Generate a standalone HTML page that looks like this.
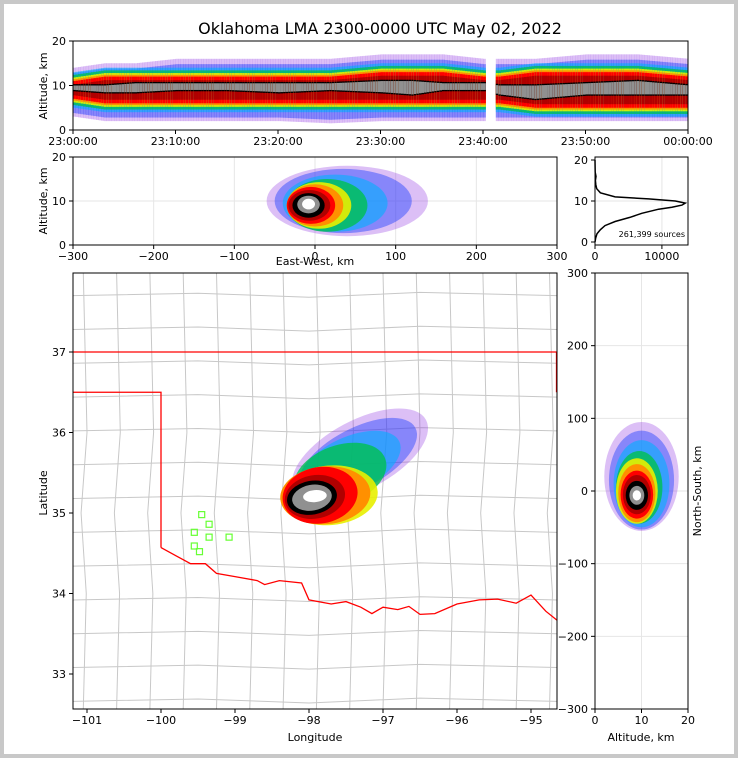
<!DOCTYPE html>
<html><head><meta charset="utf-8">
<style>
html,body{margin:0;padding:0;background:#fff;}
#wrap{position:relative;width:738px;height:758px;box-sizing:border-box;border:4px solid #c8c8c8;background:#fff;overflow:hidden;}
svg text{font-family:"DejaVu Sans","Liberation Sans",sans-serif;}
</style></head>
<body>
<div id="wrap">
<svg id="fig" width="738" height="758" viewBox="0 0 738 758" style="position:absolute;left:-4px;top:-4px">
<text x="380" y="34" font-size="16" text-anchor="middle">Oklahoma LMA 2300-0000 UTC May 02, 2022</text>
</svg>
</div>
<script>
// ---- data ----
const densityColors=["#8a2be2","#2040ff","#00b0ff","#00c050","#e8f000","#ff9000","#ff0000","#b00000","#000000","#909090","#ffffff"];
const levelOpacity=[0.3,0.45,0.6,0.8,0.9,1,1,1,1,1,1];
// time series (minutes after 23:00)
const tsMinutes=[0,3,6,10,15,20,25,30,33,36,40,41.5,45,50,55,60];
const tsOuterLow=[3,2,2,2,2,2,1.5,2,2,2,2,2,2,2,2,2];
const tsOuterHigh=[14,15,15,16,16,16,16,17,17,17,16,16,16,17,17,16];
const tsCoreLow=[7,6,6,6,6,6,6,6,6,6,6,6,5,5,5,5];
const tsCoreHigh=[11,12,12,12,12,12,12,13,13,13,12,12,13,13,13,12];
const tsWhiteLow=[9,8.5,8.5,9,9,8.5,9,8.5,8,9,9,8,7,8,8,8];
const tsWhiteHigh=[10,10,10.5,10.5,10.5,10.5,10.5,11,11,10.5,10.5,10,10,10.5,11,10];
const tsGapStart=40.2, tsGapEnd=41.2;
// East-West vs altitude blob levels: [cx km, cz km, rx km, rz km]
const ewLevels=[[40,10,100,8],[35,10,85,7.3],[25,9.5,65,6.5],[15,9,50,6],[5,9,40,5.3],[0,9,35,4.8],[-5,9,30,4.2],[-7,9,26,3.5],[-8,9,20,2.8],[-8,9.2,14,2],[-8,9.3,8,1.2]];
// histogram altitude profile
const histAlt=[0,1,2,3,4,5,6,7,8,8.5,9,9.5,10,10.5,11,12,13,14,15,16,17,20];
const histCount=[0,100,300,800,1500,3000,5200,7000,9500,11500,13000,13500,12000,8000,3000,800,250,120,60,150,30,0];
const totalSources="261,399 sources";
// map blob levels: [lon, lat, rxDeg, ryDeg, angleDeg]
const mapLevels=[[-97.31,35.72,1.01,0.43,-28],[-97.34,35.68,0.88,0.37,-28],[-97.45,35.6,0.74,0.34,-25],[-97.58,35.47,0.65,0.37,-20],[-97.72,35.22,0.65,0.37,-5],[-97.78,35.22,0.61,0.36,-5],[-97.85,35.22,0.51,0.35,-10],[-97.92,35.2,0.41,0.27,-10],[-97.96,35.19,0.34,0.21,-10],[-97.96,35.19,0.27,0.16,-10],[-97.92,35.21,0.16,0.075,-5]];
// right panel levels: [altKm, nsKm, rAlt, rNs]
const nsLevels=[[10,20,8,75],[10,15,7,68],[10,10,6,60],[9.5,5,5,50],[9,0,4.5,45],[9,-3,4,40],[9,-5,3.5,33],[9,-5,3,27],[9,-6,2.4,20],[9,-6,1.6,13],[9,-6,0.9,7]];
// station markers lon/lat
const stationLon=[-99.45,-99.35,-99.55,-99.35,-99.08,-99.55,-99.48];
const stationLat=[34.98,34.86,34.76,34.7,34.7,34.59,34.52];
// Oklahoma southern boundary (Red River) lon/lat
const riverLon=[-100,-99.8,-99.6,-99.4,-99.25,-99,-98.7,-98.6,-98.4,-98.1,-98,-97.7,-97.5,-97.3,-97.15,-97,-96.8,-96.65,-96.5,-96.3,-96,-95.7,-95.45,-95.2,-95,-94.8,-94.65];
const riverLat=[34.57,34.47,34.37,34.37,34.25,34.21,34.16,34.11,34.16,34.13,33.92,33.87,33.9,33.83,33.75,33.83,33.8,33.84,33.74,33.75,33.87,33.92,33.93,33.88,33.98,33.78,33.67];

const NS="http://www.w3.org/2000/svg";
const svg=document.getElementById('fig');
function mk(tag,attrs,parent){const e=document.createElementNS(NS,tag);for(const k in attrs)e.setAttribute(k,attrs[k]);(parent||svg).appendChild(e);return e;}
function txt(x,y,s,size,anchor,parent){const t=mk('text',{x:x,y:y,'font-size':size||11,'text-anchor':anchor||'middle'},parent);t.textContent=s;return t;}

// ---------- Panel 1: time-altitude ----------
const p1={x0:73,x1:688,y0:41,y1:130};
const tX=m=>p1.x0+m/60*(p1.x1-p1.x0);
const tY=a=>p1.y1-a/20*(p1.y1-p1.y0);
const g1=mk('g',{});


function interp(xs,ys,x){for(let i=0;i<xs.length-1;i++){if(x>=xs[i]&&x<=xs[i+1]){const f=(x-xs[i])/(xs[i+1]-xs[i]);return ys[i]+f*(ys[i+1]-ys[i]);}}return ys[ys.length-1];}
const step=0.25;
for(let m=0;m<60;m+=step){
  if(m>=tsGapStart&&m<tsGapEnd)continue;
  const oL=interp(tsMinutes,tsOuterLow,m),oH=interp(tsMinutes,tsOuterHigh,m);
  const cL=interp(tsMinutes,tsCoreLow,m),cH=interp(tsMinutes,tsCoreHigh,m);
  const wL=interp(tsMinutes,tsWhiteLow,m),wH=interp(tsMinutes,tsWhiteHigh,m);
  const bands=[[oL,oH,0],[oL+0.8,oH-1.2,1],[cL-2,cH+2,2],[cL-1.4,cH+1.4,3],[cL-0.8,cH+0.8,4],[cL-0.4,cH+0.4,5],[cL,cH,6],[cL+0.8,cH-0.8,7],[wL-0.3,wH+0.3,8],[wL,wH,9]];
  for(const b of bands){
    if(b[1]<=b[0])continue;
    const r=mk('rect',{x:tX(m),y:tY(b[1]),width:tX(step)-tX(0)+0.3,height:tY(b[0])-tY(b[1]),fill:densityColors[b[2]],'fill-opacity':levelOpacity[b[2]]},g1);
    
    
  }
}
mk('rect',{x:p1.x0,y:p1.y0,width:p1.x1-p1.x0,height:p1.y1-p1.y0,fill:'none',stroke:'#000'});
const tLabels=["23:00:00","23:10:00","23:20:00","23:30:00","23:40:00","23:50:00","00:00:00"];
tLabels.forEach((s,i)=>{const x=tX(i*10);mk('line',{x1:x,x2:x,y1:p1.y1,y2:p1.y1+4,stroke:'#000'});const t=txt(x,p1.y1+15,s,11);});
[0,10,20].forEach(a=>{const y=tY(a);mk('line',{x1:p1.x0-4,x2:p1.x0,y1:y,y2:y,stroke:'#000'});txt(p1.x0-7,y+4,String(a),11,'end');});
{const t=txt(0,0,'Altitude, km',11);t.setAttribute('transform','translate(47,86) rotate(-90)');}

// ---------- Panel 2: east-west vs altitude ----------
const p2={x0:73,x1:557,y0:157,y1:245};
const eX=k=>p2.x0+(k+300)/600*(p2.x1-p2.x0);
const eY=a=>p2.y1-a/20*(p2.y1-p2.y0);
[-200,-100,0,100,200].forEach(k=>mk('line',{x1:eX(k),x2:eX(k),y1:p2.y0,y2:p2.y1,stroke:'#e6e6e6'}));
[10].forEach(a=>mk('line',{x1:p2.x0,x2:p2.x1,y1:eY(a),y2:eY(a),stroke:'#e6e6e6'}));
const g2=mk('g',{});


ewLevels.forEach((l,i)=>{
  const e=mk('ellipse',{cx:eX(l[0]),cy:eY(l[1]),rx:eX(l[2])-eX(0),ry:eY(0)-eY(l[3]),fill:densityColors[i],'fill-opacity':levelOpacity[i]},g2);
  
  
});
mk('rect',{x:p2.x0,y:p2.y0,width:p2.x1-p2.x0,height:p2.y1-p2.y0,fill:'none',stroke:'#000'});
[-300,-200,-100,0,100,200,300].forEach(k=>{const x=eX(k);mk('line',{x1:x,x2:x,y1:p2.y1,y2:p2.y1+4,stroke:'#000'});txt(x,p2.y1+15,String(k).replace('-','\u2212'),11);});
[0,10,20].forEach(a=>{const y=eY(a);mk('line',{x1:p2.x0-4,x2:p2.x0,y1:y,y2:y,stroke:'#000'});txt(p2.x0-7,y+4,String(a),11,'end');});
{const t=txt(315,265,'East-West, km',11);}
{const t=txt(0,0,'Altitude, km',11);t.setAttribute('transform','translate(47,201) rotate(-90)');}

// ---------- Panel 3: histogram ----------
const p3={x0:595,x1:688,y0:157,y1:245};
const hX=c=>p3.x0+c/13900*(p3.x1-p3.x0);
const hY=a=>p3.y1-3-a/20*(p3.y1-p3.y0-6);
mk('line',{x1:hX(10000),x2:hX(10000),y1:p3.y0,y2:p3.y1,stroke:'#e6e6e6'});
mk('line',{x1:p3.x0,x2:p3.x1,y1:hY(10),y2:hY(10),stroke:'#e6e6e6'});
{const d=histAlt.map((a,i)=>(i?'L':'M')+hX(histCount[i]).toFixed(1)+','+hY(a).toFixed(1)).join(' ');
const p=mk('path',{d:d,fill:'none',stroke:'#000','stroke-width':1.5});}
mk('rect',{x:p3.x0,y:p3.y0,width:p3.x1-p3.x0,height:p3.y1-p3.y0,fill:'none',stroke:'#000'});
[0,10000].forEach(c=>{const x=hX(c);mk('line',{x1:x,x2:x,y1:p3.y1,y2:p3.y1+4,stroke:'#000'});txt(x,p3.y1+15,String(c),11);});
[0,10,20].forEach(a=>{const y=hY(a);mk('line',{x1:p3.x0-4,x2:p3.x0,y1:y,y2:y,stroke:'#000'});txt(p3.x0-7,y+4,String(a),11,'end');});
{const t=txt(685,237,totalSources,8,'end');}

// ---------- Panel 4: map ----------
const p4={x0:73,x1:557,y0:273,y1:709};
const mX=lon=>309+(lon+98)*74;
const mY=lat=>513-(lat-35)*80.5;
const g4=mk('g',{});


const cp=mk('clipPath',{id:'mapclip'});
mk('rect',{x:p4.x0,y:p4.y0,width:p4.x1-p4.x0,height:p4.y1-p4.y0},cp);
const gm=mk('g',{'clip-path':'url(#mapclip)'},g4);
const cg=mk('g',{stroke:'#c8c8c8','stroke-width':1,fill:'none'},gm);


for(let lon=-101.05;lon<-94.6;lon+=0.45){mk('path',{d:`M${mX(lon)},${p4.y0} L${mX(lon+0.05)},${mY(36)} L${mX(lon-0.03)},${mY(35)} L${mX(lon+0.04)},${mY(34)} L${mX(lon)},${p4.y1}`},cg);}
for(let lat=37.7;lat>32.6;lat-=0.42){mk('path',{d:`M${p4.x0},${mY(lat)} L${mX(-99.5)},${mY(lat+0.03)} L${mX(-98)},${mY(lat-0.02)} L${mX(-96.5)},${mY(lat+0.04)} L${p4.x1},${mY(lat)}`},cg);}
const sb=mk('g',{stroke:'#ff0000','stroke-width':1.3,fill:'none'},gm);


mk('line',{x1:p4.x0,x2:p4.x1,y1:mY(37),y2:mY(37)},sb);
mk('path',{d:`M${p4.x0},${mY(36.5)} L${mX(-100)},${mY(36.5)} L${mX(-100)},${mY(34.57)}`},sb);
mk('path',{d:riverLon.map((lo,i)=>(i?'L':'M')+mX(lo).toFixed(1)+','+mY(riverLat[i]).toFixed(1)).join(' ')},sb);
mk('line',{x1:p4.x1-0.5,x2:p4.x1-0.5,y1:mY(37),y2:mY(36.5)},sb);
mapLevels.forEach((l,i)=>{
  const cx=mX(l[0]),cy=mY(l[1]);
  const e=mk('ellipse',{cx:cx,cy:cy,rx:l[2]*74,ry:l[3]*80.5,fill:densityColors[i],'fill-opacity':levelOpacity[i],transform:`rotate(${l[4]} ${cx} ${cy})`},gm);
  
  
});
stationLon.forEach((lo,i)=>{
  const r=mk('rect',{x:mX(lo)-3,y:mY(stationLat[i])-3,width:6,height:6,fill:'none',stroke:'#66ff33','stroke-width':1.2},gm);
  
  
});
mk('rect',{x:p4.x0,y:p4.y0,width:p4.x1-p4.x0,height:p4.y1-p4.y0,fill:'none',stroke:'#000'});
[-101,-100,-99,-98,-97,-96,-95].forEach(lo=>{const x=mX(lo);mk('line',{x1:x,x2:x,y1:p4.y1,y2:p4.y1+4,stroke:'#000'});txt(x,p4.y1+15,String(lo).replace('-','\u2212'),11);});
[33,34,35,36,37].forEach(la=>{const y=mY(la);mk('line',{x1:p4.x0-4,x2:p4.x0,y1:y,y2:y,stroke:'#000'});txt(p4.x0-7,y+4,String(la),11,'end');});
{const t=txt(315,741,'Longitude',11);}
{const t=txt(0,0,'Latitude',11);t.setAttribute('transform','translate(47,493) rotate(-90)');}

// ---------- Panel 5: altitude vs north-south ----------
const p5={x0:595,x1:688,y0:273,y1:709};
const nX=a=>p5.x0+a/20*(p5.x1-p5.x0);
const nY=k=>p5.y1-(k+300)/600*(p5.y1-p5.y0);
[-200,-100,0,100,200].forEach(k=>mk('line',{x1:p5.x0,x2:p5.x1,y1:nY(k),y2:nY(k),stroke:'#e6e6e6'}));
mk('line',{x1:nX(10),x2:nX(10),y1:p5.y0,y2:p5.y1,stroke:'#e6e6e6'});
const g5=mk('g',{});


nsLevels.forEach((l,i)=>{
  const e=mk('ellipse',{cx:nX(l[0]),cy:nY(l[1]),rx:nX(l[2])-nX(0),ry:nY(0)-nY(l[3]),fill:densityColors[i],'fill-opacity':levelOpacity[i]},g5);
  
  
});
mk('rect',{x:p5.x0,y:p5.y0,width:p5.x1-p5.x0,height:p5.y1-p5.y0,fill:'none',stroke:'#000'});
[0,10,20].forEach(a=>{const x=nX(a);mk('line',{x1:x,x2:x,y1:p5.y1,y2:p5.y1+4,stroke:'#000'});txt(x,p5.y1+15,String(a),11);});
[-300,-200,-100,0,100,200,300].forEach(k=>{const y=nY(k);mk('line',{x1:p5.x0-4,x2:p5.x0,y1:y,y2:y,stroke:'#000'});txt(p5.x0-7,y+4,String(k).replace('-','\u2212'),11,'end');});
{const t=txt(641,741,'Altitude, km',11);}
{const t=txt(0,0,'North-South, km',11);t.setAttribute('transform','translate(701,491) rotate(-90)');}
</script>
</body></html>
